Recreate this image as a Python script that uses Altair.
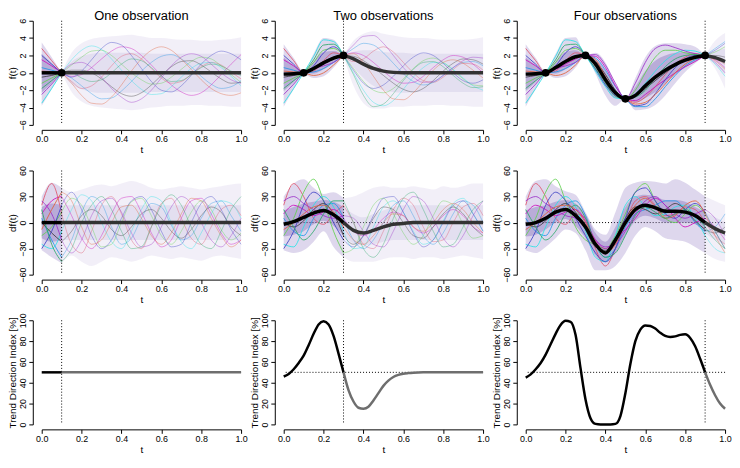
import altair as alt
import pandas as pd

# ---------------- data ----------------
T21 = [0.0, 0.05, 0.1, 0.15, 0.2, 0.25, 0.3, 0.35, 0.4, 0.45, 0.5,
       0.55, 0.6, 0.65, 0.7, 0.75, 0.8, 0.85, 0.9, 0.95, 1.0]
T41 = [0.0, 0.025, 0.05, 0.075, 0.1, 0.125, 0.15, 0.175, 0.2, 0.225, 0.25,
       0.275, 0.3, 0.325, 0.35, 0.375, 0.4, 0.425, 0.45, 0.475, 0.5,
       0.525, 0.55, 0.575, 0.6, 0.625, 0.65, 0.675, 0.7, 0.725, 0.75,
       0.775, 0.8, 0.825, 0.85, 0.875, 0.9, 0.925, 0.95, 0.975, 1.0]

TITLES = ["One observation", "Two observations", "Four observations"]
LAST_OBS = [0.1, 0.3, 0.9]
OBS_T = [[0.1], [0.1, 0.3], [0.1, 0.3, 0.5, 0.9]]
OBS_F = [[0.0], [0.0, 2.0], [0.0, 2.0, -3.0, 2.0]]

F_TICKS = [-6, -4, -2, 0, 2, 4, 6]
D_TICKS = [-60, -30, 0, 30, 60]
P_TICKS = [0, 20, 40, 60, 80, 100]
X_TICKS = [0.0, 0.2, 0.4, 0.6, 0.8, 1.0]

LINE_COLORS = ["#DF536B", "#61D04F", "#2297E6", "#28E2E5", "#CD0BBC",
               "#3a3a3a", "#3b3fc4", "#9b30c8", "#e0603a", "#2aa868"]

# ---- f(t), one observation
F1_MEAN = [0, 0, 0, 0, 0, 0, 0, 0, 0, 0, 0, 0, 0, 0, 0, 0, 0, 0, 0, 0, 0]
F1_LO = [-3.8, -1.9, 0, -2.2, -3.3, -3.8, -4.0, -4.1, -4.2, -4.3, -4.2, -4.0, -3.9, -3.8, -3.8, -3.7, -3.7, -3.8, -3.8, -3.9, -3.9]
F1_HI = [3.5, 1.8, 0, 2.3, 3.4, 3.9, 4.1, 4.2, 4.3, 4.4, 4.2, 4.0, 4.0, 3.9, 3.8, 3.8, 3.7, 3.7, 3.8, 3.9, 4.1]
F1_ILO = [-2.3, -1.2, 0, -1.3, -1.9, -2.2, -2.3, -2.3, -2.3, -2.3, -2.3, -2.2, -2.2, -2.2, -2.2, -2.2, -2.2, -2.2, -2.2, -2.2, -2.2]
F1_IHI = [2.2, 1.1, 0, 1.3, 1.9, 2.2, 2.3, 2.3, 2.3, 2.3, 2.3, 2.2, 2.2, 2.2, 2.2, 2.2, 2.2, 2.2, 2.2, 2.2, 2.2]
F1_S = [
    [2.8, 1.4, 0, -1.0, -1.8, -1.5, -0.5, 0.8, 1.9, 2.2, 1.6, 0.5, -0.6, -1.2, -1.0, -0.2, 0.7, 1.2, 0.9, 0.1, -0.7],
    [-1.2, -0.6, 0, 0.9, 1.8, 2.5, 2.6, 2.0, 1.0, 0.0, -0.8, -1.3, -1.2, -0.5, 0.4, 1.3, 1.8, 1.6, 0.8, -0.2, -1.1],
    [0.6, 0.3, 0, -0.6, -1.5, -2.4, -3.0, -2.9, -2.1, -1.0, 0.2, 1.2, 1.9, 2.1, 1.6, 0.7, -0.4, -1.3, -1.8, -1.6, -0.9],
    [-3.5, -1.8, 0, 1.5, 2.6, 3.1, 2.7, 1.6, 0.3, -0.9, -1.9, -2.5, -2.4, -1.6, -0.5, 0.5, 1.1, 1.2, 0.6, -0.4, -1.5],
    [1.5, 0.8, 0, -0.4, -0.2, 0.6, 1.6, 2.5, 3.0, 2.8, 2.0, 0.9, -0.3, -1.4, -2.2, -2.6, -2.3, -1.4, -0.2, 1.0, 2.1],
    [-0.5, -0.3, 0, 0.3, 0.3, 0.0, -0.7, -1.6, -2.4, -2.7, -2.3, -1.4, -0.3, 0.7, 1.3, 1.4, 0.9, 0.1, -0.7, -1.2, -1.1],
    [2.0, 1.0, 0, -0.5, 0.2, 1.5, 2.8, 3.5, 3.2, 2.0, 0.5, -1.0, -2.0, -2.2, -1.5, -0.3, 1.0, 2.0, 2.5, 2.2, 1.5],
    [-2.5, -1.3, 0, 1.0, 1.2, 0.6, -0.5, -1.8, -2.8, -3.4, -3.0, -2.0, -0.6, 0.8, 1.8, 2.2, 1.9, 1.0, 0.0, -0.8, -1.2],
    [0.2, 0.1, 0, -1.2, -2.6, -3.5, -3.6, -2.8, -1.4, 0.2, 1.6, 2.6, 3.0, 2.6, 1.6, 0.4, -0.8, -1.8, -2.4, -2.6, -2.3],
    [-1.8, -0.9, 0, 0.0, -0.6, -1.0, -0.8, 0.0, 1.0, 1.6, 1.4, 0.6, -0.4, -1.0, -0.9, -0.2, 0.6, 1.0, 0.8, 0.2, -0.3],
]

# ---- f(t), two observations
F2_MEAN = [-0.15, -0.1, 0, 0.5, 1.15, 1.7, 2.0, 1.6, 1.0, 0.5, 0.2, 0.05, 0, 0, 0, 0, 0, 0, 0, 0, 0]
F2_LO = [-3.9, -1.9, -0.2, -0.6, -0.4, 0.6, 2.0, -1.5, -3.5, -4.1, -4.1, -3.9, -3.9, -3.8, -3.8, -3.7, -3.7, -3.8, -3.8, -3.9, -3.9]
F2_HI = [3.3, 1.7, 0.2, 2.2, 4.0, 3.8, 2.0, 3.7, 4.5, 4.8, 4.5, 4.3, 4.1, 4.0, 4.0, 3.9, 3.8, 3.8, 3.8, 3.9, 4.1]
F2_ILO = [-2.1, -1.1, -0.05, -0.1, 0.4, 1.2, 2.0, 0.6, -0.6, -1.5, -2.0, -2.2, -2.3, -2.2, -2.2, -2.2, -2.2, -2.2, -2.2, -2.2, -2.2]
F2_IHI = [1.8, 0.9, 0.05, 1.3, 2.4, 2.5, 2.0, 2.4, 2.6, 2.6, 2.4, 2.3, 2.3, 2.2, 2.2, 2.2, 2.2, 2.2, 2.2, 2.2, 2.2]
F2_S = [
    [2.8, 1.4, 0, 0.2, 1.4, 2.3, 2.0, 1.3, 1.6, 2.5, 3.0, 2.4, 1.2, 0.0, -0.9, -1.1, -0.5, 0.4, 1.1, 1.0, 0.3],
    [-1.2, -0.6, 0, 1.2, 2.6, 2.8, 2.0, 0.5, -1.0, -2.0, -2.3, -1.8, -0.7, 0.5, 1.4, 1.7, 1.2, 0.3, -0.7, -1.4, -1.5],
    [0.6, 0.3, 0, 0.1, 0.5, 1.2, 2.0, 2.8, 3.4, 3.2, 2.3, 1.1, -0.1, -1.0, -1.4, -1.1, -0.3, 0.6, 1.2, 1.3, 0.8],
    [-3.5, -1.8, 0, 1.9, 3.8, 3.6, 2.0, 0.0, -2.0, -3.4, -3.8, -3.2, -1.9, -0.5, 0.6, 1.2, 1.1, 0.4, -0.6, -1.5, -2.0],
    [1.5, 0.8, 0, 0.4, 1.0, 1.6, 2.0, 2.3, 2.0, 1.2, 0.2, -0.7, -1.2, -1.1, -0.4, 0.6, 1.5, 2.0, 1.8, 1.0, 0.0],
    [-0.5, -0.3, 0, 0.6, 1.3, 1.8, 2.0, 1.9, 1.4, 0.6, -0.3, -1.2, -1.9, -2.2, -1.8, -0.9, 0.2, 1.1, 1.6, 1.5, 1.0],
    [2.0, 1.0, 0, 0.8, 2.3, 3.0, 2.0, 0.3, -1.2, -1.8, -1.4, -0.4, 0.8, 1.8, 2.3, 2.0, 1.1, 0.0, -0.9, -1.2, -0.8],
    [-2.5, -1.3, 0, 0.5, 0.8, 1.2, 2.0, 3.2, 4.2, 4.3, 3.4, 2.0, 0.6, -0.5, -1.1, -1.0, -0.3, 0.6, 1.4, 1.8, 1.7],
    [0.2, 0.1, 0, -0.3, 0.0, 0.9, 2.0, 2.2, 1.2, -0.4, -2.0, -3.0, -3.1, -2.3, -1.0, 0.3, 1.2, 1.5, 1.1, 0.3, -0.6],
    [-1.8, -0.9, 0, 1.5, 3.2, 3.3, 2.0, -0.2, -2.6, -3.9, -3.6, -2.4, -0.9, 0.4, 1.2, 1.3, 0.7, -0.3, -1.2, -1.7, -1.6],
]

# ---- f(t), four observations
F3_MEAN = [-0.15, -0.1, 0, 0.6, 1.3, 1.85, 2.0, 1.0, -0.8, -2.3, -3.0, -2.6, -1.5, -0.5, 0.3, 0.95, 1.45, 1.8, 2.0, 1.75, 1.3]
F3_LO = [-3.9, -1.9, -0.2, -0.6, -0.4, 0.6, 2.0, -0.1, -2.6, -3.8, -3.0, -4.3, -4.2, -3.7, -2.6, -1.2, 0.1, 1.1, 2.0, 0.5, -1.8]
F3_HI = [3.3, 1.7, 0.2, 2.2, 4.0, 4.1, 2.0, 2.3, 1.2, -1.3, -3.0, -0.6, 1.8, 3.1, 3.4, 3.4, 3.3, 3.0, 2.0, 3.7, 4.6]
F3_ILO = [-2.1, -1.1, -0.05, -0.1, 0.4, 1.2, 2.0, 0.5, -1.6, -2.9, -3.0, -3.4, -2.9, -2.2, -1.2, -0.2, 0.6, 1.3, 2.0, 1.0, -0.2]
F3_IHI = [1.8, 0.9, 0.05, 1.3, 2.4, 2.6, 2.0, 1.6, 0.2, -1.8, -3.0, -1.6, 0.2, 1.4, 2.0, 2.3, 2.4, 2.3, 2.0, 2.5, 2.8]
F3_S = [
    [2.8, 1.4, 0, 0.2, 1.4, 2.3, 2.0, 1.2, -0.5, -2.2, -3.0, -3.4, -2.8, -1.6, -0.2, 1.0, 1.8, 2.2, 2.0, 1.6, 1.0],
    [-1.2, -0.6, 0, 1.2, 2.6, 2.8, 2.0, 0.8, -0.9, -2.4, -3.0, -2.0, 0.0, 1.8, 2.6, 2.6, 2.3, 2.1, 2.0, 2.4, 3.0],
    [0.6, 0.3, 0, 0.1, 0.5, 1.2, 2.0, 1.7, 0.3, -1.6, -3.0, -3.9, -3.9, -3.0, -1.6, -0.3, 0.8, 1.5, 2.0, 2.8, 3.6],
    [-3.5, -1.8, 0, 1.9, 3.8, 3.6, 2.0, 0.2, -1.6, -2.9, -3.0, -2.4, -1.2, 0.2, 1.4, 2.2, 2.6, 2.5, 2.0, 1.0, -0.4],
    [1.5, 0.8, 0, 0.4, 1.0, 1.6, 2.0, 1.9, 0.6, -1.5, -3.0, -3.2, -2.5, -1.6, -0.8, 0.0, 0.7, 1.3, 2.0, 1.5, 0.6],
    [-0.5, -0.3, 0, 0.6, 1.3, 1.8, 2.0, 1.3, -0.2, -2.0, -3.0, -2.7, -1.8, -0.9, 0.0, 0.8, 1.4, 1.8, 2.0, 2.0, 1.8],
    [2.0, 1.0, 0, 0.8, 2.3, 3.0, 2.0, 0.4, -1.4, -2.6, -3.0, -3.8, -3.6, -2.4, -0.8, 0.6, 1.6, 2.0, 2.0, 2.6, 3.4],
    [-2.5, -1.3, 0, 0.5, 0.8, 1.2, 2.0, 2.1, 0.9, -1.2, -3.0, -1.2, 1.2, 2.8, 3.2, 2.9, 2.5, 2.2, 2.0, 1.2, 0.0],
    [0.2, 0.1, 0, -0.3, 0.0, 0.9, 2.0, 1.5, -0.5, -2.4, -3.0, -3.6, -3.4, -2.5, -1.3, 0.0, 1.0, 1.7, 2.0, 1.4, 0.4],
    [-1.8, -0.9, 0, 1.5, 3.2, 3.3, 2.0, 0.5, -1.2, -2.7, -3.0, -2.8, -2.0, -0.6, 0.7, 1.6, 2.0, 2.1, 2.0, 1.8, 1.4],
]

# ---- df(t), one observation
D1_MEAN = [0, 0, 0, 0, 0, 0, 0, 0, 0, 0, 0, 0, 0, 0, 0, 0, 0, 0, 0, 0, 0]
D1_LO = [-32, -40, -47, -38, -45, -50, -45, -40, -42, -45, -42, -38, -40, -42, -40, -42, -44, -40, -38, -40, -42]
D1_HI = [30, 46, 40, 35, 38, 42, 44, 42, 45, 48, 45, 40, 38, 40, 42, 40, 38, 40, 42, 44, 45]
D1_ILO = [-18, -22, -20, -20, -20, -20, -20, -20, -20, -20, -20, -20, -20, -20, -20, -20, -20, -20, -20, -20, -20]
D1_IHI = [18, 22, 20, 20, 20, 20, 20, 20, 20, 20, 20, 20, 20, 20, 20, 20, 20, 20, 20, 20, 20]
D1_S = [
    [20, 45, 10, -25, -35, -10, 20, 30, 10, -20, -30, -5, 22, 28, 5, -18, -25, -5, 15, 20, 8],
    [-15, -5, 12, 28, 20, -5, -28, -25, 0, 24, 28, 8, -15, -25, -10, 12, 25, 15, -8, -20, -12],
    [5, -20, -40, -20, 12, 30, 22, -5, -25, -18, 5, 22, 18, -3, -20, -15, 5, 22, 25, 8, -10],
    [-25, -30, -10, 15, 32, 25, 0, -22, -30, -10, 15, 30, 25, 0, -22, -30, -12, 10, 25, 22, 5],
    [10, 25, 30, 8, -18, -30, -15, 10, 28, 30, 12, -12, -28, -20, 5, 25, 28, 10, -12, -25, -20],
    [0, -12, -22, -10, 8, 15, 8, -8, -15, -5, 10, 15, 5, -10, -18, -8, 8, 18, 12, -5, -15],
    [-30, -10, 20, 35, 15, -15, -30, -20, 5, 25, 30, 15, -10, -28, -25, 0, 22, 30, 15, -8, -25],
    [25, 10, -20, -35, -20, 8, 25, 28, 12, -12, -28, -25, -5, 18, 30, 22, 0, -20, -28, -15, 5],
    [-8, 15, 35, 25, -5, -25, -20, 0, 18, 20, 5, -15, -25, -12, 10, 28, 25, 5, -15, -28, -20],
    [15, -25, -45, -30, 0, 20, 30, 15, -10, -30, -28, -5, 20, 32, 20, -5, -25, -30, -10, 15, 30],
]

# ---- df(t), two observations
D2_MEAN = [-2, 1, 6, 11, 14, 9, 0, -9, -12, -9, -5, -2, -1, 0, 0, 0, 0, 0, 0, 0, 0]
D2_LO = [-32, -35, -32, -22, -10, -28, -40, -45, -45, -45, -42, -40, -40, -42, -40, -40, -42, -40, -38, -40, -42]
D2_HI = [30, 45, 50, 40, 33, 35, 28, 30, 35, 40, 42, 40, 40, 42, 40, 38, 42, 40, 42, 45, 45]
D2_ILO = [-16, -14, -10, -2, 2, -4, -15, -24, -26, -25, -22, -20, -20, -20, -20, -20, -20, -20, -20, -20, -20]
D2_IHI = [14, 18, 22, 24, 26, 24, 18, 10, 6, 10, 14, 18, 20, 20, 20, 20, 20, 20, 20, 20, 20]
D2_S = [
    [20, 45, 30, 5, -2, 10, 20, 0, -25, -30, -10, 15, 28, 20, -5, -22, -20, 0, 18, 22, 8],
    [-15, 5, 35, 50, 25, -10, -35, -30, -5, 20, 28, 10, -12, -25, -15, 8, 25, 20, -2, -18, -15],
    [5, -10, -15, 5, 20, 22, 5, -20, -30, -20, 0, 20, 25, 8, -15, -25, -12, 10, 25, 20, 0],
    [-25, -28, -5, 20, 30, 18, -10, -30, -28, -5, 18, 25, 12, -10, -25, -20, 2, 22, 28, 10, -10],
    [10, 20, 15, 8, 12, 15, 5, -10, -15, -8, 5, 12, 8, -5, -12, -5, 8, 15, 8, -5, -12],
    [0, -5, 2, 15, 22, 10, -15, -25, -15, 5, 18, 15, 0, -15, -18, -5, 10, 18, 10, -5, -15],
    [-30, -10, 20, 35, 25, 0, -20, -28, -15, 8, 28, 30, 12, -12, -28, -20, 0, 20, 25, 10, -10],
    [25, 30, 22, 15, 8, 5, 8, 5, -10, -25, -28, -10, 15, 30, 25, 5, -18, -28, -15, 8, 25],
    [-8, 0, 10, 18, 20, 12, -5, -20, -25, -15, 0, 10, 8, -5, -10, 0, 15, 22, 15, 0, -12],
    [15, -5, -20, -10, 10, 25, 25, 0, -30, -40, -25, 5, 28, 35, 15, -10, -28, -25, -5, 15, 25],
]

# ---- df(t), four observations
D3_MEAN = [-2, 0, 5, 12, 15, 8, -5, -25, -35, -20, 0, 15, 20, 17, 13, 13, 12, 8, 0, -7, -12]
D3_LO = [-32, -35, -28, -18, -8, -12, -32, -55, -55, -50, -35, -15, -5, -10, -18, -20, -22, -28, -35, -42, -45]
D3_HI = [30, 48, 50, 42, 36, 32, 12, -8, -14, 12, 40, 46, 48, 47, 45, 50, 46, 38, 30, 25, 20]
D3_ILO = [-16, -14, -8, 0, 4, -4, -18, -38, -46, -35, -15, 2, 8, 5, 0, 0, 0, -2, -12, -20, -25]
D3_IHI = [14, 18, 20, 24, 26, 22, 10, -12, -22, -5, 18, 30, 32, 30, 26, 26, 24, 18, 12, 6, 0]
D3_S = [
    [20, 45, 30, 5, -2, 10, 5, -30, -50, -30, 0, 25, 30, 20, 8, 10, 18, 15, 0, -15, -25],
    [-15, 5, 35, 50, 25, -5, -20, -25, -30, -15, 10, 35, 45, 25, 5, 0, 10, 20, 10, -10, -30],
    [5, -10, -15, 5, 20, 25, 8, -25, -40, -30, -5, 10, 15, 20, 25, 25, 15, 0, -10, -5, 10],
    [-25, -28, -5, 20, 30, 18, -10, -40, -45, -15, 20, 30, 18, 8, 10, 18, 20, 5, -15, -30, -35],
    [10, 20, 15, 8, 12, 15, 2, -20, -30, -20, -8, 5, 20, 28, 20, 5, -5, 0, 5, -5, -20],
    [0, -5, 2, 15, 22, 12, -8, -28, -32, -18, 5, 18, 15, 10, 15, 22, 15, 2, -8, -12, -5],
    [-30, -10, 20, 35, 25, 5, -15, -35, -45, -30, 5, 35, 40, 25, 10, 5, 15, 22, 12, -10, -30],
    [25, 30, 22, 15, 8, 5, -5, -20, -28, -25, -10, 10, 25, 30, 20, 10, 5, 10, 15, 5, -15],
    [-8, 0, 10, 18, 20, 15, 0, -22, -35, -25, 0, 20, 28, 18, 5, 8, 20, 25, 10, -15, -35],
    [15, -5, -20, -10, 10, 20, 5, -25, -40, -35, -15, 8, 18, 12, 5, 10, 15, 8, -5, -20, -30],
]

# ---- Trend Direction Index [%]
TDI1 = [50, 50, 50, 50, 50, 50, 50, 50, 50, 50, 50, 50, 50, 50, 50, 50, 50, 50, 50, 50, 50,
        50, 50, 50, 50, 50, 50, 50, 50, 50, 50, 50, 50, 50, 50, 50, 50, 50, 50, 50, 50]
TDI2 = [46, 48.5, 53, 59, 66, 76, 87, 96, 99, 96, 85, 68, 50, 33, 22, 16, 15, 17, 23, 30, 37,
        42, 45.5, 47.5, 48.7, 49.3, 49.7, 49.9, 50, 50, 50, 50, 50, 50, 50, 50, 50, 50, 50, 50, 50]
TDI3 = [45, 48, 53, 59, 67, 77, 87, 95.5, 99.5, 98.5, 86, 54, 24, 6, 0.5, 0, 0, 0, 0.5, 8, 30,
        58, 80, 91, 95, 94.5, 92, 88, 85, 84, 84.5, 86, 86.5, 83, 75, 63, 50, 38, 28, 20, 15]

# ---------------- chart building ----------------
W, H = 201, 105
FONT = "Liberation Sans"

xscale = alt.Scale(domain=[0, 1], nice=False, zero=False)
xaxis = alt.Axis(values=X_TICKS, format=".1f", title="t", labelFlush=False)


def X():
    return alt.X("t:Q", scale=xscale, axis=xaxis)


def spaghetti(T, mean, lo, hi, ilo, ihi, samples, tl, ydom, yticks, ytitle,
              obs_t=None, obs_v=None, title=None, zero=False):
    band = pd.DataFrame({"t": T, "mean": mean, "lo": lo, "hi": hi, "ilo": ilo, "ihi": ihi})
    rows = []
    for k, s in enumerate(samples):
        for t, v in zip(T, s):
            rows.append({"t": t, "v": v, "s": k})
    sdf = pd.DataFrame(rows)
    ys = alt.Scale(domain=ydom, nice=False, zero=False)
    ya = alt.Axis(values=yticks, title=ytitle, labelFlush=False)
    before = alt.datum.t <= tl
    after = alt.datum.t >= tl
    layers = []
    if zero:
        layers.append(alt.Chart(pd.DataFrame({"y": [0]})).mark_rule(
            color="black", strokeDash=[1, 2], strokeWidth=1).encode(
            y=alt.Y("y:Q", scale=ys, axis=ya)))
    B = alt.Chart(band)
    for flt, col, op in [(before, "#8a70c0", 0.28), (after, "#c2b6de", 0.22)]:
        layers.append(B.transform_filter(flt).mark_area(
            color=col, opacity=op, interpolate="monotone").encode(
            x=X(), y=alt.Y("lo:Q", scale=ys, axis=ya), y2="hi:Q"))
    for flt, col, op in [(before, "#6448a8", 0.30), (after, "#a393cc", 0.18)]:
        layers.append(B.transform_filter(flt).mark_area(
            color=col, opacity=op, interpolate="monotone").encode(
            x=X(), y=alt.Y("ilo:Q", scale=ys, axis=ya), y2="ihi:Q"))
    S = alt.Chart(sdf)
    for flt, op in [(before, 0.85), (after, 0.4)]:
        layers.append(S.transform_filter(flt).mark_line(
            strokeWidth=1, opacity=op, interpolate="monotone").encode(
            x=X(), y=alt.Y("v:Q", scale=ys, axis=ya),
            color=alt.Color("s:N", scale=alt.Scale(range=LINE_COLORS), legend=None),
            detail="s:N"))
    layers.append(alt.Chart(pd.DataFrame({"t": [tl]})).mark_rule(
        color="black", strokeDash=[1, 2], strokeWidth=1).encode(x=X()))
    for flt, col in [(after, "#333333"), (before, "black")]:
        layers.append(B.transform_filter(flt).mark_line(
            color=col, strokeWidth=3.5, interpolate="monotone").encode(
            x=X(), y=alt.Y("mean:Q", scale=ys, axis=ya)))
    if obs_t is not None:
        layers.append(alt.Chart(pd.DataFrame({"t": obs_t, "v": obs_v})).mark_circle(
            color="black", size=60, opacity=1).encode(
            x=X(), y=alt.Y("v:Q", scale=ys, axis=ya)))
    ch = alt.layer(*layers).properties(width=W, height=H)
    if title:
        ch = ch.properties(title=title)
    return ch


def tdi_panel(T, vals, tl):
    df = pd.DataFrame({"t": T, "v": vals})
    ys = alt.Scale(domain=[0, 100], nice=False, zero=False)
    ya = alt.Axis(values=P_TICKS, title="Trend Direction Index [%]", labelFlush=False)
    layers = [
        alt.Chart(pd.DataFrame({"y": [50]})).mark_rule(
            color="black", strokeDash=[1, 2], strokeWidth=1).encode(
            y=alt.Y("y:Q", scale=ys, axis=ya)),
        alt.Chart(pd.DataFrame({"t": [tl]})).mark_rule(
            color="black", strokeDash=[1, 2], strokeWidth=1).encode(x=X()),
        alt.Chart(df).transform_filter(alt.datum.t >= tl).mark_line(
            color="#6e6e6e", strokeWidth=2.5, interpolate="monotone").encode(
            x=X(), y=alt.Y("v:Q", scale=ys, axis=ya)),
        alt.Chart(df).transform_filter(alt.datum.t <= tl).mark_line(
            color="black", strokeWidth=2.5, interpolate="monotone").encode(
            x=X(), y=alt.Y("v:Q", scale=ys, axis=ya)),
    ]
    return alt.layer(*layers).properties(width=W, height=H)


F_SETS = [(F1_MEAN, F1_LO, F1_HI, F1_ILO, F1_IHI, F1_S),
          (F2_MEAN, F2_LO, F2_HI, F2_ILO, F2_IHI, F2_S),
          (F3_MEAN, F3_LO, F3_HI, F3_ILO, F3_IHI, F3_S)]
D_SETS = [(D1_MEAN, D1_LO, D1_HI, D1_ILO, D1_IHI, D1_S),
          (D2_MEAN, D2_LO, D2_HI, D2_ILO, D2_IHI, D2_S),
          (D3_MEAN, D3_LO, D3_HI, D3_ILO, D3_IHI, D3_S)]
TDIS = [TDI1, TDI2, TDI3]

row1 = [spaghetti(T21, *F_SETS[i], LAST_OBS[i], [-6, 6], F_TICKS, "f(t)",
                  obs_t=OBS_T[i], obs_v=OBS_F[i], title=TITLES[i]) for i in range(3)]
row2 = [spaghetti(T21, *D_SETS[i], LAST_OBS[i], [-60, 60], D_TICKS, "df(t)", zero=True)
        for i in range(3)]
row3 = [tdi_panel(T41, TDIS[i], LAST_OBS[i]) for i in range(3)]

chart = alt.concat(
    *(row1 + row2 + row3), columns=3,
    spacing={"row": 46, "column": 43}, bounds="flush",
).properties(
    padding={"left": 0, "top": 0, "right": 0, "bottom": 0},
    background="white",
).configure_view(stroke=None).configure_axis(
    grid=False, domainColor="black", tickColor="black", labelColor="black",
    titleColor="black", labelFont=FONT, titleFont=FONT, labelFontSize=9,
    titleFontSize=10, titleFontWeight="normal", tickSize=4, domainWidth=1,
    tickWidth=1, labelOverlap=False,
).configure_axisX(offset=5, labelPadding=1, titlePadding=1).configure_axisY(
    offset=9, labelAngle=270, labelAlign="center", labelBaseline="bottom",
    labelPadding=1, titlePadding=1,
).configure_title(font=FONT, fontSize=13, fontWeight="normal", color="black",
                  anchor="middle", offset=-5)

chart.save("out.html", embed_options={"renderer": "svg", "actions": False})
